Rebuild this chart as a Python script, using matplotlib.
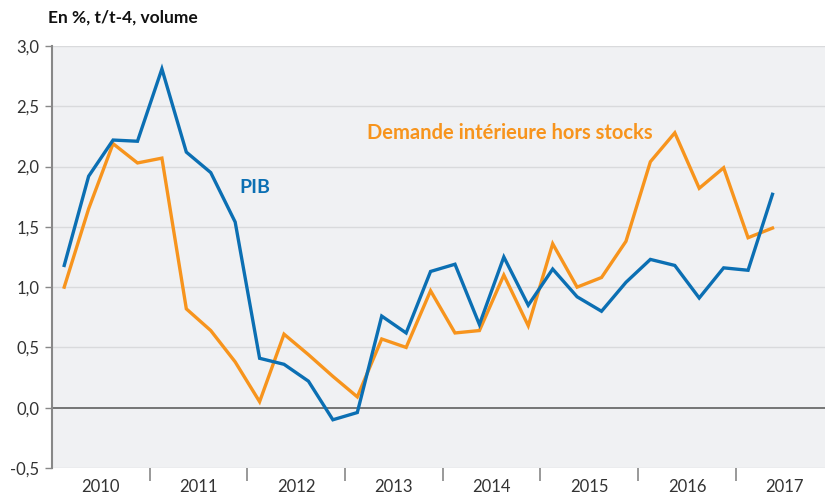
import numpy as np
import matplotlib
matplotlib.use("Agg")
import matplotlib.pyplot as plt

# ----------------------------------------------------------------------------
# Data: quarterly, 2010T1 .. 2017T2, en %, t/t-4, volume
# ----------------------------------------------------------------------------
YEARS = ["2010", "2011", "2012", "2013", "2014", "2015", "2016", "2017"]

PIB = [1.18, 1.92, 2.22, 2.21, 2.81, 2.12, 1.95, 1.54,
       0.41, 0.36, 0.22, -0.10, -0.04, 0.76, 0.62, 1.13,
       1.19, 0.69, 1.25, 0.85, 1.15, 0.92, 0.80, 1.04,
       1.23, 1.18, 0.91, 1.16, 1.14, 1.77]

DEMANDE = [1.00, 1.65, 2.19, 2.03, 2.07, 0.82, 0.64, 0.38,
           0.05, 0.61, 0.44, 0.26, 0.09, 0.57, 0.50, 0.97,
           0.62, 0.64, 1.10, 0.68, 1.36, 1.00, 1.08, 1.38,
           2.04, 2.28, 1.82, 1.99, 1.41, 1.49]

BLUE = "#0b6fb3"
ORANGE = "#f7941d"

plt.rcParams["font.family"] = ["Lato", "DejaVu Sans"]

fig = plt.figure(figsize=(8.25, 4.98), dpi=100)
ax = fig.add_axes([52 / 825, 1 - 468 / 498, 1 - 52 / 825, (468 - 46) / 498])
ax.set_facecolor("#f0f1f3")

x = np.arange(len(PIB))
ax.plot(x, PIB, color=BLUE, lw=2.4, solid_joinstyle="miter", zorder=4)
ax.plot(x, DEMANDE, color=ORANGE, lw=2.4, solid_joinstyle="miter", zorder=3)

ax.set_xlim(-0.5, 31.15)
ax.set_ylim(-0.5, 3.0)

# grid
yt = np.arange(-0.5, 3.01, 0.5)
for v in yt:
    if abs(v) < 1e-9:
        ax.axhline(v, color="#6b6b6b", lw=1.3, zorder=2)
    else:
        ax.axhline(v, color="#d9dadc", lw=1.0, zorder=1)

ax.set_yticks(yt)
ax.set_yticklabels([f"{v:.1f}".replace(".", ",") for v in yt],
                   fontsize=12, color="#333333")
ax.tick_params(axis="y", length=5, width=1, color="#888888", pad=4)

# year separators as major ticks, year names as minor labels
n_years = len(YEARS)
ax.set_xticks([4 * i - 0.5 for i in range(1, n_years)])
ax.set_xticklabels([])
ax.tick_params(axis="x", which="major", length=9, width=1.2,
               color="#888888", direction="out")
ax.set_xticks([4 * i + 1.5 for i in range(n_years)], minor=True)
ax.set_xticklabels(YEARS, minor=True, fontsize=12, color="#333333")
ax.tick_params(axis="x", which="minor", length=0, pad=8)

for s in ["top", "right", "bottom"]:
    ax.spines[s].set_visible(False)
ax.spines["left"].set_color("#888888")
ax.spines["left"].set_linewidth(1.5)

fig.text(48 / 825, 1 - 18 / 498, "En %, t/t-4, volume", fontsize=12.5,
         fontweight="bold", color="#111111", va="center", ha="left")

ax.text(7.8, 1.83, "PIB", color=BLUE, fontsize=14, fontweight="bold",
        ha="center", va="center")
ax.text(18.25, 2.28, "Demande intérieure hors stocks", color=ORANGE,
        fontsize=14.5, fontweight="bold", ha="center", va="center")

fig.savefig("out.png", dpi=100)
